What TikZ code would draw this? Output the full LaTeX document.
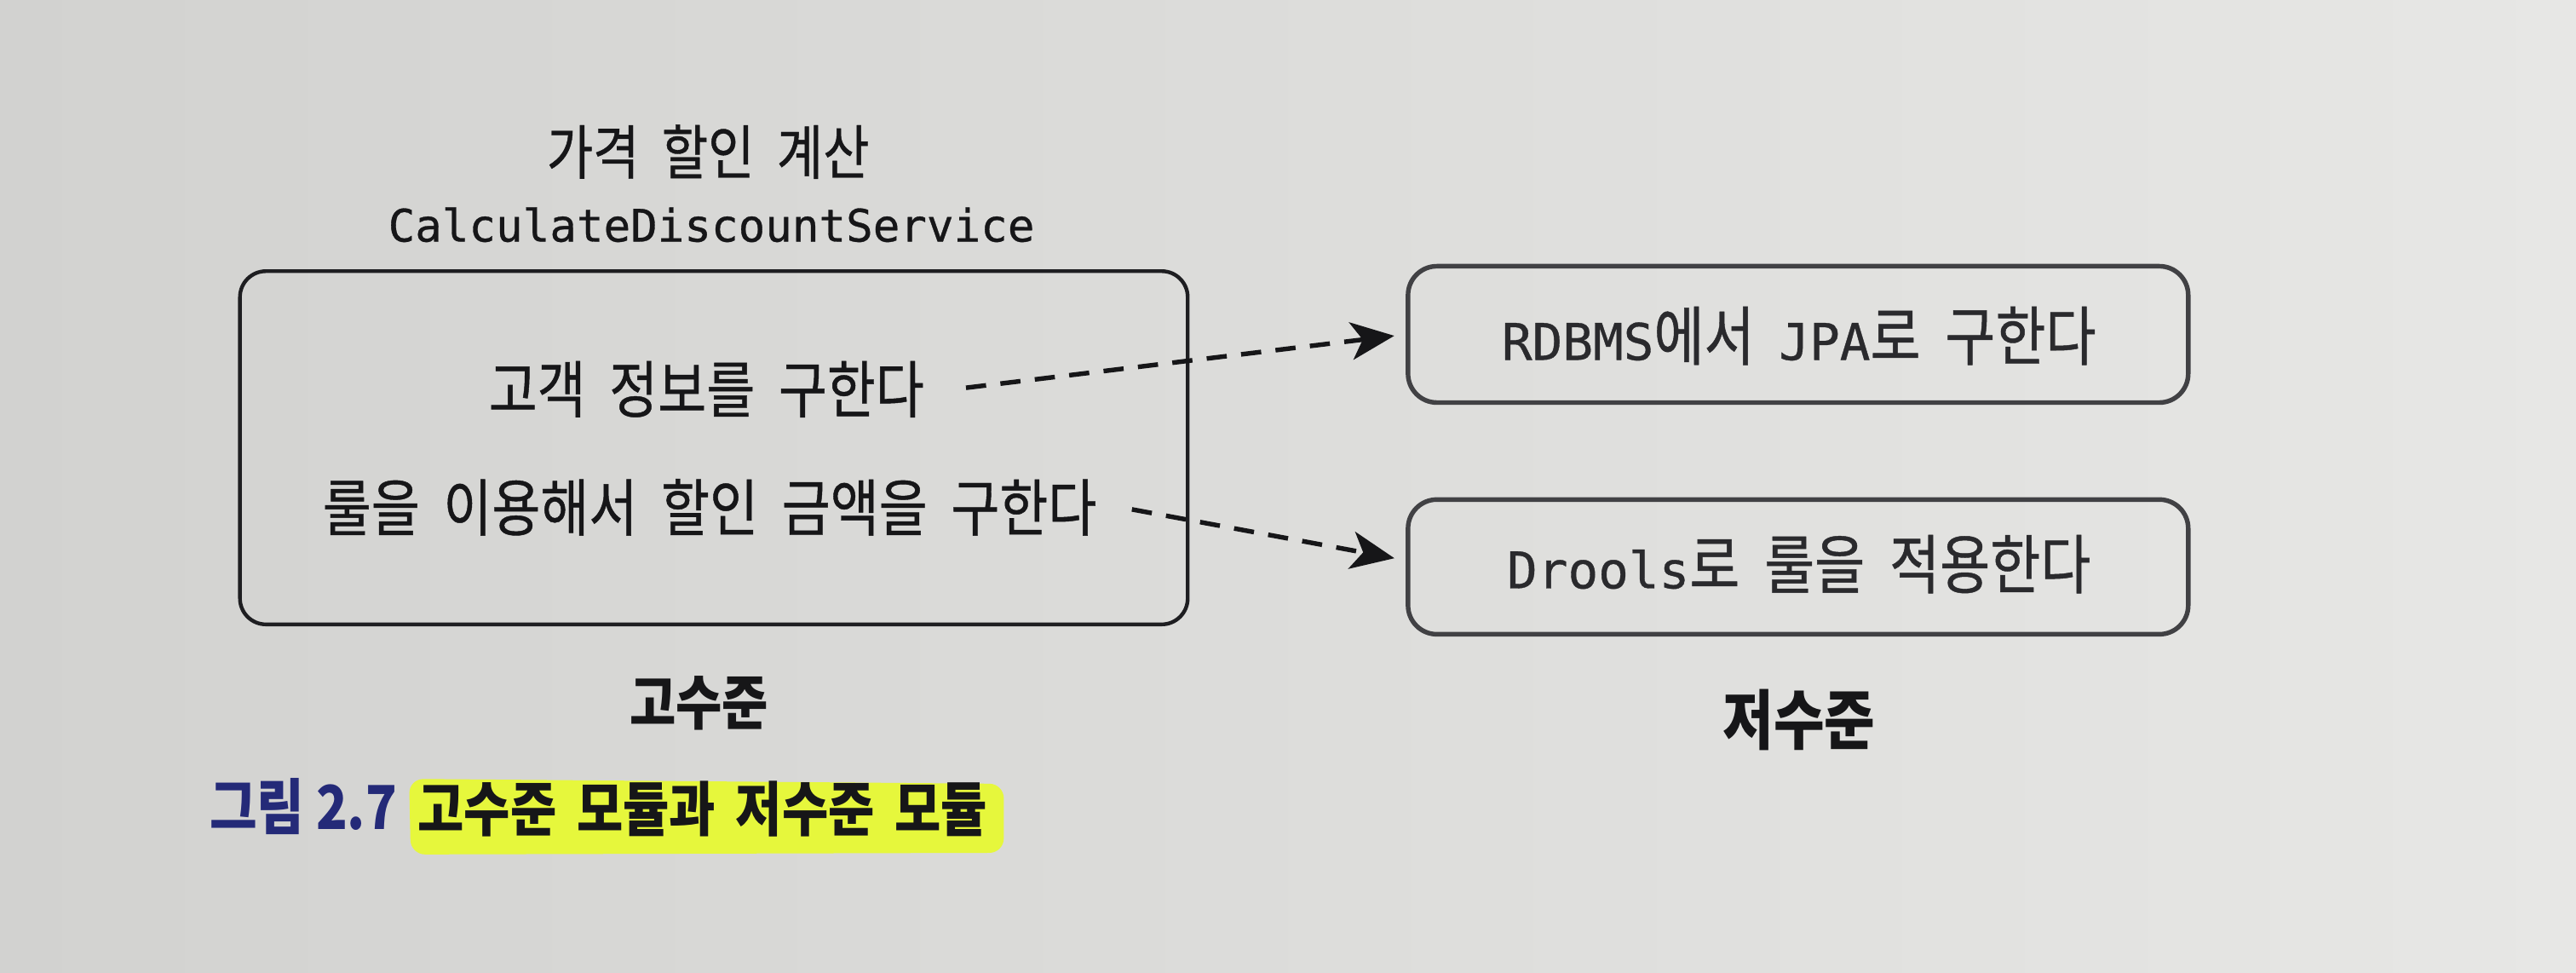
\documentclass[tikz,border=0pt]{standalone}
\usepackage{fontspec}
\newfontfamily\kr[FakeStretch=0.85,WordSpace=2,FakeBold=0.6]{Noto Sans CJK KR}
\newfontfamily\krc[FakeStretch=0.85]{Noto Sans CJK KR}
\newfontfamily\mono[FakeBold=0.6]{DejaVu Sans Mono}
\usetikzlibrary{arrows.meta}
\definecolor{paperL}{RGB}{210,210,208}
\definecolor{paperR}{RGB}{231,231,229}
\definecolor{ink}{RGB}{22,22,24}
\definecolor{inkR}{RGB}{42,42,45}
\definecolor{linec}{RGB}{30,30,33}
\definecolor{linecR}{RGB}{65,65,68}
\definecolor{navy}{RGB}{36,42,120}
\definecolor{hilite}{RGB}{230,247,60}
\begin{document}
\begin{tikzpicture}[x=0.02cm,y=-0.02cm,
  box/.style={draw=linec, line width=1.3pt, rounded corners=9pt, inner sep=0pt},
  rbox/.style={draw=linecR, line width=1.6pt, rounded corners=10pt, inner sep=0pt,
    minimum width=9.5cm},
  txt/.style={anchor=base, inner sep=0pt, text=ink, font=\kr\fontsize{21.5}{25}\selectfont},
  rtxt/.style={anchor=base, inner sep=0pt, text=inkR, font=\kr\fontsize{22.3}{25}\selectfont},
  lbl/.style={anchor=base, inner sep=0pt, text=ink, font=\krc\bfseries\fontsize{20.5}{24}\selectfont},
  dasharr/.style={draw=ink, line width=1.6pt, dash pattern=on 7pt off 5pt,
    -{Stealth[length=15pt,width=13pt,inset=4pt]}, shorten >=0.14cm}
]
\useasboundingbox (0,0) rectangle (1568,592);
\shade[left color=paperL, right color=paperR] (0,0) rectangle (1568,592);

% titles
\node[txt, font=\kr\fontsize{20.5}{24}\selectfont] (title) at (431,106) {가격 할인 계산};
\node[txt, font=\mono\fontsize{15.5}{18}\selectfont] (cls) at (433,147) {CalculateDiscountService};

% high-level box
\node[box, minimum width=11.54cm, minimum height=4.3cm] (L) at (434.5,272.5) {};
\node[txt] (t1) at (430,251) {고객 정보를 구한다};
\node[txt] (t2) at (432,323) {룰을 이용해서 할인 금액을 구한다};

% low-level boxes
\node[rbox, minimum height=1.66cm] (r1) at (1094.5,203.5) {};
\node[rtxt] (r1t) at (1095,219) {{\mono\fontsize{17.5}{19}\selectfont RDBMS}에서 {\mono\fontsize{17.5}{19}\selectfont JPA}로 구한다};
\node[rbox, minimum height=1.64cm] (r2) at (1094.5,345) {};
\node[rtxt] (r2t) at (1095,358) {{\mono\fontsize{17.5}{19}\selectfont Drools}로 룰을 적용한다};

% arrows
\coordinate (a1) at (588,236);
\coordinate (a2) at (689,310);
\draw[dasharr] (a1) -- (r1.west);
\draw[dasharr] (a2) -- ([yshift=0.08cm]r2.west);

% level labels
\node[lbl] (hi) at (425.5,441) {고수준};
\node[lbl, font=\krc\bfseries\fontsize{22.5}{26}\selectfont] (lo) at (1095,453) {저수준};

% caption
\fill[hilite, rounded corners=5pt] (249,474) -- (611,477) -- (611,519) -- (250,520) -- cycle;
\node[anchor=base east, inner sep=0pt, text=navy, font=\krc\bfseries\fontsize{21}{24}\selectfont] (fig) at (242,505) {그림 2.7};
\node[anchor=base west, inner sep=0pt, text=ink, font=\krc\bfseries\fontsize{20.5}{24}\selectfont] (cap) at (254,506) {고수준\hspace{7pt}모듈과\hspace{7pt}저수준\hspace{7pt}모듈};
\end{tikzpicture}
\end{document}
